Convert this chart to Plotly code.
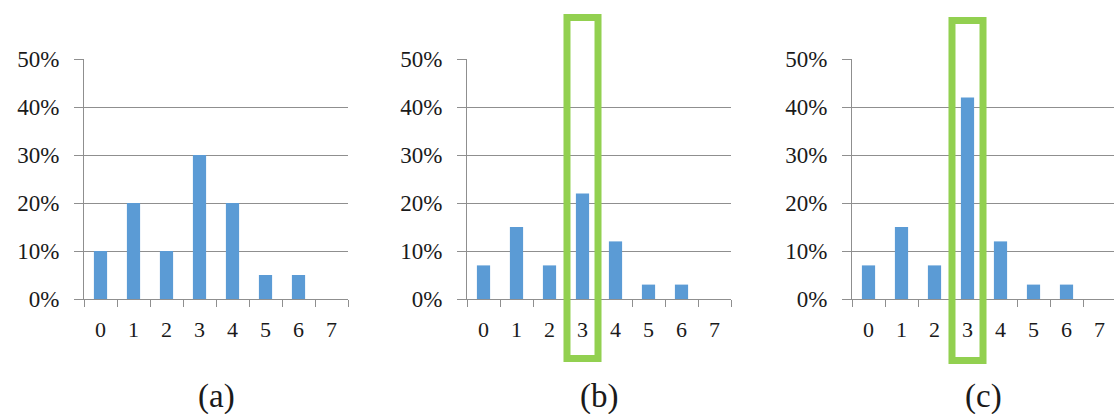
import plotly.graph_objects as go

# Category labels and the three distributions (fractions)
categories = ["0", "1", "2", "3", "4", "5", "6", "7"]
dist_a = [0.10, 0.20, 0.10, 0.30, 0.20, 0.05, 0.05, 0.0]
dist_b = [0.07, 0.15, 0.07, 0.22, 0.12, 0.03, 0.03, 0.0]
dist_c = [0.07, 0.15, 0.07, 0.42, 0.12, 0.03, 0.03, 0.0]
captions = ["(a)", "(b)", "(c)"]
highlight = "3"          # category boxed in panels (b) and (c)
y_ticks = [0, 0.1, 0.2, 0.3, 0.4, 0.5]

W, H = 1114, 414
BAR = "#5B9BD5"
GREEN = "#92D050"
GRID = "#8f8f8f"
TEXT = "#1a1a1a"
FONT = "Times New Roman"

# x-domains in paper fractions for each panel
x_domains = [(84 / W, 348 / W), (467 / W, 731 / W), (852 / W, 1.0)]
y_domain = ((H - 299) / H, (H - 59) / H)
x_ranges = [[-0.5, 7.5], [-0.5, 7.5], [-0.5, 7.5 - (852 + 264 - W) / 33]]

fig = go.Figure()
series = [dist_a, dist_b, dist_c]
for i, vals in enumerate(series):
    sfx = "" if i == 0 else str(i + 1)
    fig.add_trace(go.Bar(
        x=categories, y=vals, marker=dict(color=BAR, line=dict(width=0)),
        xaxis="x" + sfx, yaxis="y" + sfx, showlegend=False,
    ))
    fig.update_layout({
        "xaxis" + sfx: dict(
            domain=list(x_domains[i]), anchor="y" + sfx, type="category",
            range=x_ranges[i], showline=True, linecolor=GRID, linewidth=1,
            ticks="outside", tickson="boundaries", ticklen=7, tickcolor=GRID,
            showgrid=False, ticklabelstandoff=11, automargin=False,
            tickfont=dict(family=FONT, size=22, color=TEXT),
        ),
        "yaxis" + sfx: dict(
            domain=list(y_domain), anchor="x" + sfx, range=[0, 0.5],
            tickvals=y_ticks, tickformat=".0%", showgrid=True,
            gridcolor=GRID, gridwidth=1, zeroline=False,
            showline=True, linecolor=GRID, linewidth=1, automargin=False,
            ticks="outside", ticklen=9, tickcolor=GRID, ticklabelstandoff=10,
            tickfont=dict(family=FONT, size=23, color=TEXT),
        ),
    })
    # panel caption under each chart
    fig.add_annotation(
        text=captions[i], xref="x" + sfx + " domain", yref="paper",
        x=0.5, y=(H - 396) / H,
        showarrow=False, font=dict(family=FONT, size=33, color=TEXT),
        xanchor="center", yanchor="middle",
    )

# green frames around the highlighted category in panels (b) and (c)
k = categories.index(highlight)
for i, (top, bot) in zip([1, 2], [(17.5, 358.5), (20.5, 360.5)]):
    sfx = str(i + 1)
    lo, hi = x_ranges[i]
    span = hi - lo
    fig.add_shape(
        type="rect", xref="x" + sfx + " domain", yref="y" + sfx + " domain",
        x0=(k - 0.47 - lo) / span, x1=(k + 0.47 - lo) / span,
        y0=-(bot - 299) / 240, y1=(299 - top) / 240,
        line=dict(color=GREEN, width=7), fillcolor="rgba(0,0,0,0)",
    )

fig.update_layout(
    template="none",
    width=W, height=H, margin=dict(l=0, r=0, t=0, b=0, autoexpand=False),
    paper_bgcolor="white", plot_bgcolor="white", bargap=0.6,
)
fig.write_html("out.html")
